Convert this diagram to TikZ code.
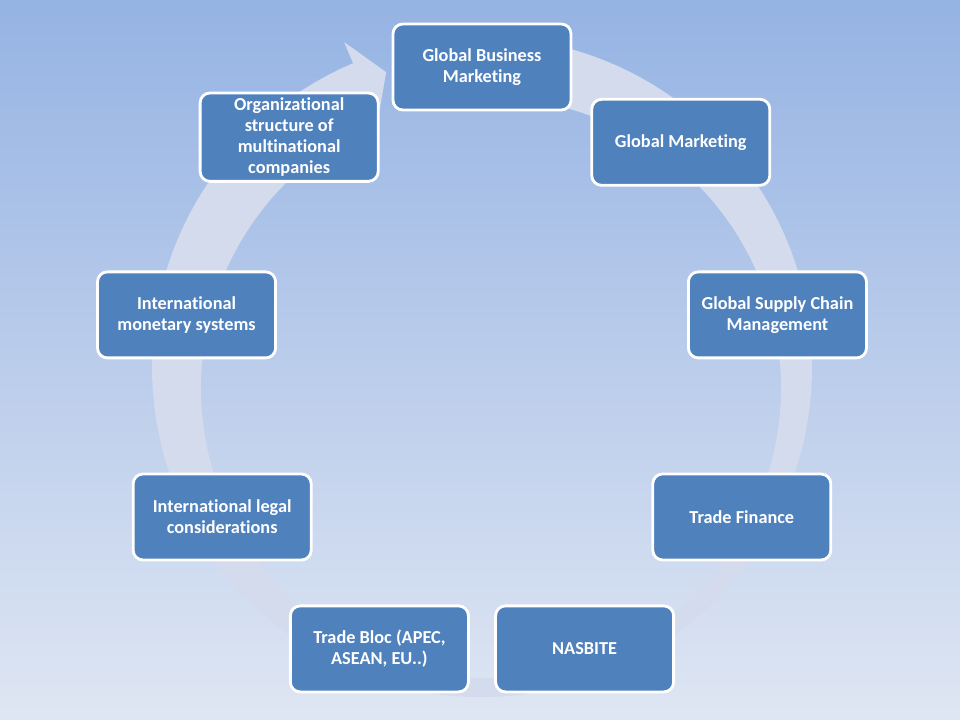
\documentclass[tikz,border=0pt]{standalone}
\usepackage{fontspec}
\setmainfont{Carlito}[Ligatures=NoCommon]
\usetikzlibrary{positioning}
\definecolor{boxblue}{HTML}{4F81BD}
\definecolor{bgtop}{HTML}{95B3E3}
\definecolor{bgbottom}{HTML}{DFE6F3}
\definecolor{ringgray}{HTML}{D3DBEC}

\begin{document}
\begin{tikzpicture}[x=0.025cm,y=0.025cm,
			topic/.style={draw=white,line width=2pt,fill=boxblue,rounded corners=7pt,minimum width=4.45cm,minimum height=2.15cm,align=center,text=white,font=\fontsize{13}{15}\selectfont\bfseries},
			ring/.style={fill=ringgray}
			]
			\shade[top color=bgtop,bottom color=bgbottom] (0,0) rectangle (960,720);
			\coordinate (o) at (482,353);
			% circular arrow behind the boxes
			\fill[ring] ([shift={(92:330)}]o) arc[start angle=92,end angle=-247,radius=330]
				-- ([shift={(-247:353)}]o) -- ([shift={(-252:310)}]o) -- ([shift={(-247:267)}]o)
				arc[start angle=-247,end angle=92,radius=290] -- cycle;
			\node[topic] (t1) at ([shift={(90:300)}]o) {Global Business\\Marketing};
			\node[topic] (t2) at ([shift={(48.5:300)}]o) {Global Marketing};
			\node[topic] (t3) at ([shift={(10:300)}]o) {Global Supply Chain\\Management};
			\node[topic] (t4) at ([shift={(-30:300)}]o) {Trade Finance};
			\node[topic] (t5) at ([shift={(-70:300)}]o) {NASBITE};
			\node[topic] (t6) at ([shift={(-110:300)}]o) {Trade Bloc (APEC,\\ASEAN, EU..)};
			\node[topic] (t7) at ([shift={(-150:300)}]o) {International legal\\considerations};
			\node[topic] (t8) at ([shift={(170:300)}]o) {International\\monetary systems};
			\node[topic] (t9) at ([shift={(130:300)}]o) {Organizational\\structure of\\multinational\\companies};
		\end{tikzpicture}
\end{document}
